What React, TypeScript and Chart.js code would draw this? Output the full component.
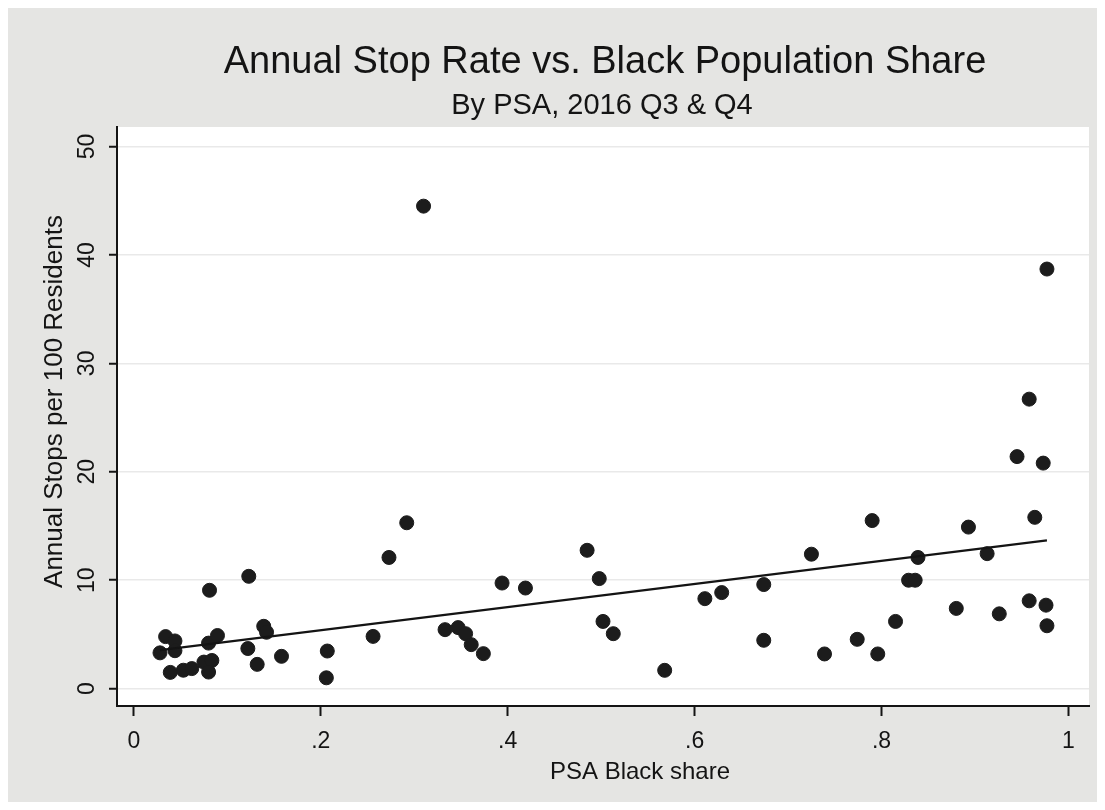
import { useEffect, useRef } from 'react';
import { Chart, registerables } from 'chart.js';

Chart.register(...registerables);

const titleText = 'Annual Stop Rate vs. Black Population Share';
const subtitleText = 'By PSA, 2016 Q3 & Q4';
const xAxisTitle = 'PSA Black share';
const yAxisTitle = 'Annual Stops per 100 Residents';

const xTicks = [0, 0.2, 0.4, 0.6, 0.8, 1];
const xTickLabels = ['0', '.2', '.4', '.6', '.8', '1'];
const yTicks = [0, 10, 20, 30, 40, 50];
const yTickLabels = ['0', '10', '20', '30', '40', '50'];

// PSA black share (x) and annual stops per 100 residents (y)
const shareValues = [
  0.310, 0.977, 0.958, 0.945, 0.973, 0.790, 0.964, 0.893, 0.725, 0.913,
  0.839, 0.829, 0.836, 0.958, 0.976, 0.880, 0.926, 0.815, 0.977, 0.774,
  0.739, 0.796, 0.485, 0.394, 0.419, 0.498, 0.611, 0.629, 0.674, 0.674,
  0.502, 0.513, 0.568, 0.333, 0.347, 0.355, 0.361, 0.374, 0.292, 0.273,
  0.123, 0.081, 0.256, 0.207, 0.206, 0.034, 0.044, 0.028, 0.044, 0.039,
  0.053, 0.062, 0.075, 0.0835, 0.080, 0.080, 0.0895, 0.139, 0.142, 0.122,
  0.132, 0.158,
];
const stopRates = [
  44.5, 38.7, 26.7, 21.4, 20.8, 15.5, 15.8, 14.9, 12.4, 12.45,
  12.1, 10.0, 10.0, 8.1, 7.7, 7.4, 6.9, 6.2, 5.8, 4.55,
  3.2, 3.2, 12.76, 9.74, 9.28, 10.15, 8.3, 8.86, 9.6, 4.46,
  6.2, 5.07, 1.69, 5.44, 5.63, 5.07, 4.06, 3.23, 15.3, 12.1,
  10.36, 9.07, 4.82, 3.47, 1.0, 4.8, 4.4, 3.3, 3.5, 1.5,
  1.7, 1.85, 2.45, 2.6, 1.53, 4.2, 4.9, 5.75, 5.2, 3.7,
  2.24, 2.98,
];

// Linear fit line endpoints
const fitShare = [0.028, 0.977];
const fitRate = [3.55, 13.68];

const FF = '"Liberation Sans", Arial, Helvetica, sans-serif';
const INK = '#141414';

const decor = {
  id: 'stataDecor',
  beforeDraw(chart: any) {
    const { ctx, chartArea, width, height } = chart;
    ctx.save();
    ctx.fillStyle = '#e5e5e3';
    ctx.fillRect(0, 0, width, height);
    ctx.fillStyle = '#ffffff';
    ctx.fillRect(chartArea.left, chartArea.top, chartArea.right - chartArea.left, chartArea.bottom - chartArea.top);
    ctx.restore();
  },
  afterDraw(chart: any) {
    const { ctx, chartArea, scales } = chart;
    const cx = (chartArea.left + chartArea.right) / 2;
    ctx.save();
    ctx.fillStyle = INK;
    ctx.textAlign = 'center';
    ctx.textBaseline = 'alphabetic';
    ctx.font = `38px ${FF}`;
    ctx.fillText(titleText, cx + 2, 65);
    ctx.font = `29px ${FF}`;
    ctx.fillText(subtitleText, cx - 1, 106);

    // y tick labels (rotated)
    ctx.font = `23px ${FF}`;
    yTicks.forEach((v, i) => {
      const py = scales.y.getPixelForValue(v);
      ctx.save();
      ctx.translate(80, py);
      ctx.rotate(-Math.PI / 2);
      ctx.textAlign = 'center';
      ctx.textBaseline = 'middle';
      ctx.fillText(yTickLabels[i], 0, 0);
      ctx.restore();
    });
    // x tick labels
    xTicks.forEach((v, i) => {
      const px = scales.x.getPixelForValue(v);
      ctx.textAlign = 'center';
      ctx.textBaseline = 'alphabetic';
      ctx.fillText(xTickLabels[i], px, 740);
    });
    // axis titles
    ctx.font = `24px ${FF}`;
    ctx.fillText(xAxisTitle, 632, 771);
    ctx.save();
    ctx.font = `26px ${FF}`;
    ctx.translate(47, (chartArea.top + chartArea.bottom) / 2 - 15);
    ctx.rotate(-Math.PI / 2);
    ctx.textBaseline = 'middle';
    ctx.fillText(yAxisTitle, 0, 0);
    ctx.restore();
    ctx.restore();
  },
};

export default function App() {
  const ref = useRef<HTMLCanvasElement>(null);
  useEffect(() => {
    const canvas = ref.current;
    if (!canvas) return;
    const chart = new Chart(canvas, {
      type: 'scatter',
      data: {
        datasets: [
          {
            type: 'line',
            data: fitShare.map((x, i) => ({ x, y: fitRate[i] })),
            borderColor: INK,
            borderWidth: 2.2,
            pointRadius: 0,
            fill: false,
          } as any,
          {
            type: 'scatter',
            data: shareValues.map((x, i) => ({ x, y: stopRates[i] })),
            backgroundColor: '#1c1c1c',
            borderColor: '#1c1c1c',
            borderWidth: 1,
            pointRadius: 7,
          },
        ],
      },
      options: {
        responsive: false,
        animation: false,
        layout: { padding: { top: 119, right: 7, left: 0, bottom: 0 } },
        plugins: {
          legend: { display: false },
          tooltip: { enabled: false },
          title: { display: false },
        },
        scales: {
          x: {
            type: 'linear',
            min: -0.018,
            max: 1.022,
            afterBuildTicks: (s: any) => { s.ticks = xTicks.map((v) => ({ value: v })); },
            afterFit: (s: any) => { s.height = 96; },
            ticks: { display: false },
            grid: { drawOnChartArea: false, drawTicks: true, tickLength: 10, tickColor: INK, tickWidth: 2 },
            border: { display: true, color: INK, width: 2 },
          },
          y: {
            type: 'linear',
            min: -1.6,
            max: 51.8,
            afterBuildTicks: (s: any) => { s.ticks = yTicks.map((v) => ({ value: v })); },
            afterFit: (s: any) => { s.width = 109; },
            ticks: { display: false },
            grid: { color: '#e9e9e9', lineWidth: 1.5, drawTicks: true, tickLength: 8, tickColor: INK, tickWidth: 2 },
            border: { display: true, color: INK, width: 2 },
          },
        },
      } as any,
      plugins: [decor],
    });
    return () => chart.destroy();
  }, []);
  return (
    <div style={{ width: 1089, height: 794 }}>
      <canvas ref={ref} width={1089} height={794} />
    </div>
  );
}
